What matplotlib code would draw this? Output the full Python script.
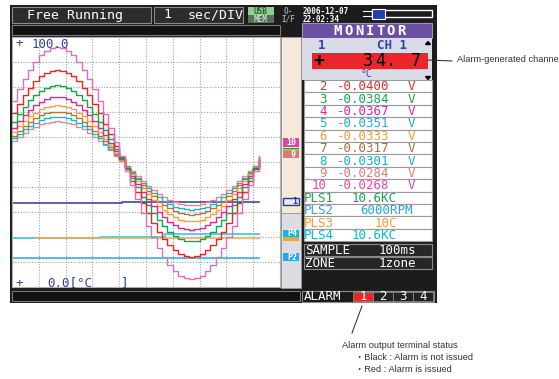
import matplotlib.pyplot as plt
from matplotlib.patches import Rectangle, Polygon
import numpy as np

# ---- data (y in display units 0..100, x in divisions) ----
step_div = 0.2   # 100 ms sampling at 1 sec/DIV, drawn every 2nd sample

ch10_pink = [74.4, 79.1, 83.3, 87.0, 90.1, 92.7, 94.5, 95.5, 95.9, 95.5, 94.5, 92.7, 90.1, 87.0, 83.3, 79.1,
             74.4, 69.3, 63.8, 58.2, 52.4, 46.6, 40.8, 35.2, 29.7, 24.6, 19.9, 15.7, 12.0, 8.9, 6.3, 4.5,
             3.5, 3.1, 3.5, 4.5, 6.3, 8.9, 12.0, 15.7, 19.9, 24.6, 29.7, 35.2, 40.8, 46.6, 52.4]
ch2_red = [69.5, 73.3, 76.8, 79.8, 82.3, 84.3, 85.7, 86.6, 86.9, 86.6, 85.7, 84.3, 82.3, 79.8, 76.8, 73.3,
           69.5, 65.4, 61.1, 56.5, 51.9, 47.1, 42.5, 37.9, 33.6, 29.5, 25.7, 22.2, 19.2, 16.7, 14.7, 13.3,
           12.4, 12.1, 12.4, 13.3, 14.7, 16.7, 19.2, 22.2, 25.7, 29.5, 33.6, 37.9, 42.5, 47.1, 51.9]
ch3_green = [66.2, 69.4, 72.2, 74.7, 76.8, 78.5, 79.7, 80.5, 80.7, 80.5, 79.7, 78.5, 76.8, 74.7, 72.2, 69.4,
             66.2, 62.8, 59.1, 55.3, 51.5, 47.5, 43.7, 39.9, 36.2, 32.8, 29.6, 26.8, 24.3, 22.2, 20.5, 19.3,
             18.5, 18.3, 18.5, 19.3, 20.5, 22.2, 24.3, 26.8, 29.6, 32.8, 36.2, 39.9, 43.7, 47.5, 51.5]
ch4_magenta = [63.8, 66.4, 68.9, 71.0, 72.8, 74.2, 75.3, 75.9, 76.1, 75.9, 75.3, 74.2, 72.8, 71.0, 68.9, 66.4,
               63.8, 60.8, 57.7, 54.5, 51.2, 47.8, 44.5, 41.3, 38.2, 35.2, 32.6, 30.1, 28.0, 26.2, 24.8, 23.7,
               23.1, 22.9, 23.1, 23.7, 24.8, 26.2, 28.0, 30.1, 32.6, 35.2, 38.2, 41.3, 44.5, 47.8, 51.2]
ch6_orange = [61.9, 64.3, 66.4, 68.3, 69.8, 71.1, 72.0, 72.5, 72.7, 72.5, 72.0, 71.1, 69.8, 68.3, 66.4, 64.3,
              61.9, 59.4, 56.7, 53.8, 51.0, 48.0, 45.2, 42.3, 39.6, 37.1, 34.7, 32.6, 30.7, 29.2, 27.9, 27.0,
              26.5, 26.3, 26.5, 27.0, 27.9, 29.2, 30.7, 32.6, 34.7, 37.1, 39.6, 42.3, 45.2, 48.0, 51.0]
ch7_brown = [60.5, 62.6, 64.5, 66.2, 67.5, 68.7, 69.5, 69.9, 70.1, 69.9, 69.5, 68.7, 67.5, 66.2, 64.5, 62.6,
             60.5, 58.3, 55.9, 53.4, 50.8, 48.2, 45.6, 43.1, 40.7, 38.5, 36.4, 34.5, 32.8, 31.5, 30.3, 29.5,
             29.1, 28.9, 29.1, 29.5, 30.3, 31.5, 32.8, 34.5, 36.4, 38.5, 40.7, 43.1, 45.6, 48.2, 50.8]
ch8_cyan = [59.5, 61.3, 63.1, 64.5, 65.8, 66.8, 67.5, 68.0, 68.1, 68.0, 67.5, 66.8, 65.8, 64.5, 63.1, 61.3,
            59.5, 57.4, 55.2, 53.0, 50.7, 48.3, 46.0, 43.8, 41.6, 39.5, 37.7, 35.9, 34.5, 33.2, 32.2, 31.5,
            31.1, 30.9, 31.1, 31.5, 32.2, 33.2, 34.5, 35.9, 37.7, 39.5, 41.6, 43.8, 46.0, 48.3, 50.7]
ch9_salmon = [58.5, 60.2, 61.7, 63.1, 64.2, 65.1, 65.8, 66.2, 66.3, 66.2, 65.8, 65.1, 64.2, 63.1, 61.7, 60.2,
              58.5, 56.7, 54.7, 52.6, 50.6, 48.4, 46.4, 44.3, 42.3, 40.5, 38.8, 37.3, 35.9, 34.8, 33.9, 33.2,
              32.8, 32.7, 32.8, 33.2, 33.9, 34.8, 35.9, 37.3, 38.8, 40.5, 42.3, 44.3, 46.4, 48.4, 50.6]

# flat-ish channels: change points (div) and levels
ch1_t, ch1_v = [0, 4.1, 9.2], [33.6, 34.2, 34.2]
pls4_t, pls4_v = [0, 3.3, 5.7, 9.2], [19.8, 20.1, 21.2, 21.2]
pls3_t, pls3_v = [0.85, 9.2], [19.5, 19.5]
pls2_t, pls2_v = [0, 9.2], [11.7, 11.7]

# monitor list
ch_nums = ['2', '3', '4', '5', '6', '7', '8', '9', '10']
ch_vals = ['-0.0400', '-0.0384', '-0.0367', '-0.0351', '-0.0333', '-0.0317', '-0.0301', '-0.0284', '-0.0268']
ch_cols = ['#ee2a2a', '#13a54a', '#e0269a', '#1ea8e6', '#f59a3c', '#a8703a', '#12b4cc', '#e07c80', '#e04aa8']
pls_names = ['PLS1', 'PLS2', 'PLS3', 'PLS4']
pls_vals = ['10.6KC', '6000RPM', '10C', '10.6KC']
pls_cols = ['#13a54a', '#1ea8e6', '#f59a3c', '#12b4cc']
pls_x = [352, 360, 375, 352]

W, H = 559, 379
MONO = 'DejaVu Sans Mono'
NOTE = ['Liberation Sans', 'Noto Sans CJK JP', 'DejaVu Sans']

fig = plt.figure(figsize=(W / 100, H / 100), dpi=100)
fig.patch.set_facecolor('white')
ui = fig.add_axes([0, 0, 1, 1], zorder=0)
ui.set_xlim(0, W)
ui.set_ylim(H, 0)
ui.axis('off')


def box(x0, y0, x1, y1, fc, ec='none', lw=0.8, z=1):
    ui.add_patch(Rectangle((x0, y0), x1 - x0, y1 - y0, facecolor=fc, edgecolor=ec, linewidth=lw, zorder=z))


def label(x, y, s, size=9, color='white', ha='left', weight='normal', family=MONO, z=5):
    ui.text(x, y, s, fontsize=size, color=color, ha=ha, va='center', fontweight=weight,
            family=family, zorder=z)


# bezel
box(10, 5, 437, 303, '#1c1c1c')

# header
box(12, 7, 151, 23, '#2c2c2c', '#8a8a8a')
label(27, 15, 'Free Running', 9.5)
box(154, 7, 243, 23, '#2c2c2c', '#8a8a8a')
label(163, 15, '1', 9.5)
label(188, 15, 'sec/DIV', 9.5)
box(248, 7, 274, 15, '#8fcf8f')
label(261, 11, 'USB', 5.5, '#2f5f2f', ha='center', weight='bold')
box(248, 15, 274, 23, '#56705a')
label(261, 19, 'MEM', 5.5, '#c8d8c8', ha='center', weight='bold')
label(288, 11, 'O-', 5.5, '#a0a0a0', ha='center', weight='bold')
label(288, 19, 'I/F', 5.5, '#a0a0a0', ha='center', weight='bold')
label(303, 11, '2006-12-07', 5.5, 'white', weight='bold')
label(303, 19, '22:02:34', 5.5, 'white', weight='bold')
# slider icon
box(372, 10, 432, 17, '#1c1c1c', 'white', lw=1.0)
ui.plot([363, 372], [11, 11], color='white', lw=0.8)
ui.plot([363, 372], [16, 16], color='white', lw=0.8)
box(372, 9, 385, 19, '#2040b0', 'white', lw=0.8, z=2)

# second row
box(12, 25, 280, 35, '#111111', '#777777')

# right strip beside the graph
box(281, 37, 301, 213, '#f5ead9', '#999999', lw=0.6)
box(281, 213, 301, 288, '#dcdde3', '#999999', lw=0.6)
box(283, 138, 299, 147, '#e0449e')
label(291, 142.5, '10', 6, 'white', ha='center', weight='bold')
box(283, 147.5, 299, 149, '#1fa84f', z=2)
box(283, 149, 299, 150.5, '#f59a3c', z=2)
box(283, 151, 299, 158, '#d87878')
label(293, 154.5, '9', 6, 'white', ha='center', weight='bold')
box(283, 198, 299, 205, '#e6e8f4', '#303890', lw=1.0)
label(295, 201.5, '1', 6, '#303890', ha='center', weight='bold')
box(283, 230, 299, 237, '#1fb2d2')
label(292, 233.5, 'P4', 6, 'white', ha='center', weight='bold')
box(283, 237, 299, 241, '#f5a040')
box(283, 253, 299, 261, '#20a8e8')
label(292, 257, 'P2', 6, 'white', ha='center', weight='bold')

# bottom bar under graph
box(12, 291, 300, 301, '#111111', '#777777')

# monitor panel
box(302, 23, 432, 38, '#6a4fa3', '#9a9a9a')
for i, ch in enumerate('MONITOR'):
    label(338 + i * 10.6, 30.8, ch, 10, 'white', ha='center', weight='bold')
box(302, 38, 432, 80, '#d9dce6')
label(322, 45.5, '1', 9, '#3444a4', ha='center', weight='bold')
label(392, 45.5, 'CH 1', 9, '#3444a4', ha='center', weight='bold')
box(312, 53, 428, 69, '#e8262b')
label(319, 61, '+', 13, 'black', ha='center', weight='bold')
for cx, ch in zip([368, 380, 391, 416], ['3', '4', '.', '7']):
    label(cx, 61, ch, 12, 'black', ha='center')
label(367, 74, '°C', 7, '#3444a4', ha='center')
ui.add_patch(Polygon([[425.5, 44.5], [430.5, 44.5], [428, 41.5]], closed=True, color='black', zorder=3))
ui.add_patch(Polygon([[425.5, 76.5], [430.5, 76.5], [428, 79.5]], closed=True, color='black', zorder=3))

row_h = 12.4
y = 80.0
for num, val, col in zip(ch_nums, ch_vals, ch_cols):
    box(304, y, 432, y + row_h, 'white', '#9a9a9a')
    label(327, y + row_h / 2 + 0.5, num, 9, col, ha='right')
    label(337, y + row_h / 2 + 0.5, val, 9, col)
    label(411, y + row_h / 2 + 0.5, 'V', 9, col, ha='center')
    y += row_h
for name, val, col, px in zip(pls_names, pls_vals, pls_cols, pls_x):
    box(304, y, 432, y + row_h, 'white', '#9a9a9a')
    label(304, y + row_h / 2 + 0.5, name, 9, col)
    label(px, y + row_h / 2 + 0.5, val, 9, col)
    y += row_h

box(304, 244, 432, 256, '#262626', '#8a8a8a')
label(305, 250.5, 'SAMPLE', 9)
label(416, 250.5, '100ms', 9, ha='right')
box(304, 257, 432, 269, '#262626', '#8a8a8a')
label(305, 263.5, 'ZONE', 9)
label(416, 263.5, '1zone', 9, ha='right')

# alarm bar
box(302, 291, 434, 302, '#1a1a1a', '#8a8a8a')
label(304, 296.8, 'ALARM', 9)
for i, (x0, txt) in enumerate(zip([353, 373, 393, 413], ['1', '2', '3', '4'])):
    box(x0, 292, x0 + 20, 301, '#e8262b' if i == 0 else '#222222', '#8a8a8a', lw=0.6)
    label(x0 + 10, 296.8, txt, 9, ha='center')

# call-outs
ui.plot([362, 352], [306, 333], color='#222222', lw=0.7)
ui.plot([428, 452], [60, 61], color='#222222', lw=0.7)
label(457, 60, 'Alarm-generated channels', 6.7, '#333333', family=NOTE)
label(342, 346, 'Alarm output terminal status', 6.7, '#333333', family=NOTE)
label(355, 358, '・Black : Alarm is not issued', 6.7, '#333333', family=NOTE)
label(355, 370, '・Red : Alarm is issued', 6.7, '#333333', family=NOTE)

# ---- waveform graph ----
ax = fig.add_axes([12 / W, 1 - 287 / H, 268 / W, 250 / H], zorder=1)
ax.set_xlim(0, 10)
ax.set_ylim(0, 100)
ax.set_xticks([])
ax.set_yticks([])
for s in ax.spines.values():
    s.set_color('#b0b0b0')
    s.set_linewidth(0.8)
for v in range(1, 10):
    ax.axvline(v, color='#a0a0a0', lw=0.8, ls=(0, (1, 1.5)), zorder=1)
for v in range(10, 100, 10):
    ax.axhline(v, color='#a0a0a0', lw=0.8, ls=(0, (1, 1.5)), zorder=1)

t = np.arange(len(ch10_pink)) * step_div
waves = [(ch9_salmon, '#e48890'), (ch8_cyan, '#18b8d0'), (ch7_brown, '#b07838'), (ch6_orange, '#f8a040'),
         (ch4_magenta, '#e02496'), (ch3_green, '#12a64c'), (ch2_red, '#f02222'), (ch10_pink, '#dc6cc4')]
for vals, col in waves:
    ax.plot(t, vals, drawstyle='steps-post', color=col, lw=1.0, zorder=3)

ax.plot(pls4_t, pls4_v, drawstyle='steps-post', color='#30c0d4', lw=1.1, zorder=2)
ax.plot(pls3_t, pls3_v, drawstyle='steps-post', color='#f8a850', lw=1.1, zorder=2)
ax.plot(pls2_t, pls2_v, drawstyle='steps-post', color='#20a8e0', lw=1.1, zorder=2)
ax.plot(ch1_t, ch1_v, drawstyle='steps-post', color='#303890', lw=1.1, zorder=2)

blue = '#3040a0'
for x, yy, s in [(15, 44, '+'), (32, 44, '100.0'), (15, 283, '+'), (47, 283, '0.0[°C'), (121, 283, ']')]:
    ax.text(x, yy, s, transform=ui.transData, fontsize=9, color=blue, family=MONO, va='center', zorder=6)

fig.savefig('out.png', dpi=100, facecolor='white')
